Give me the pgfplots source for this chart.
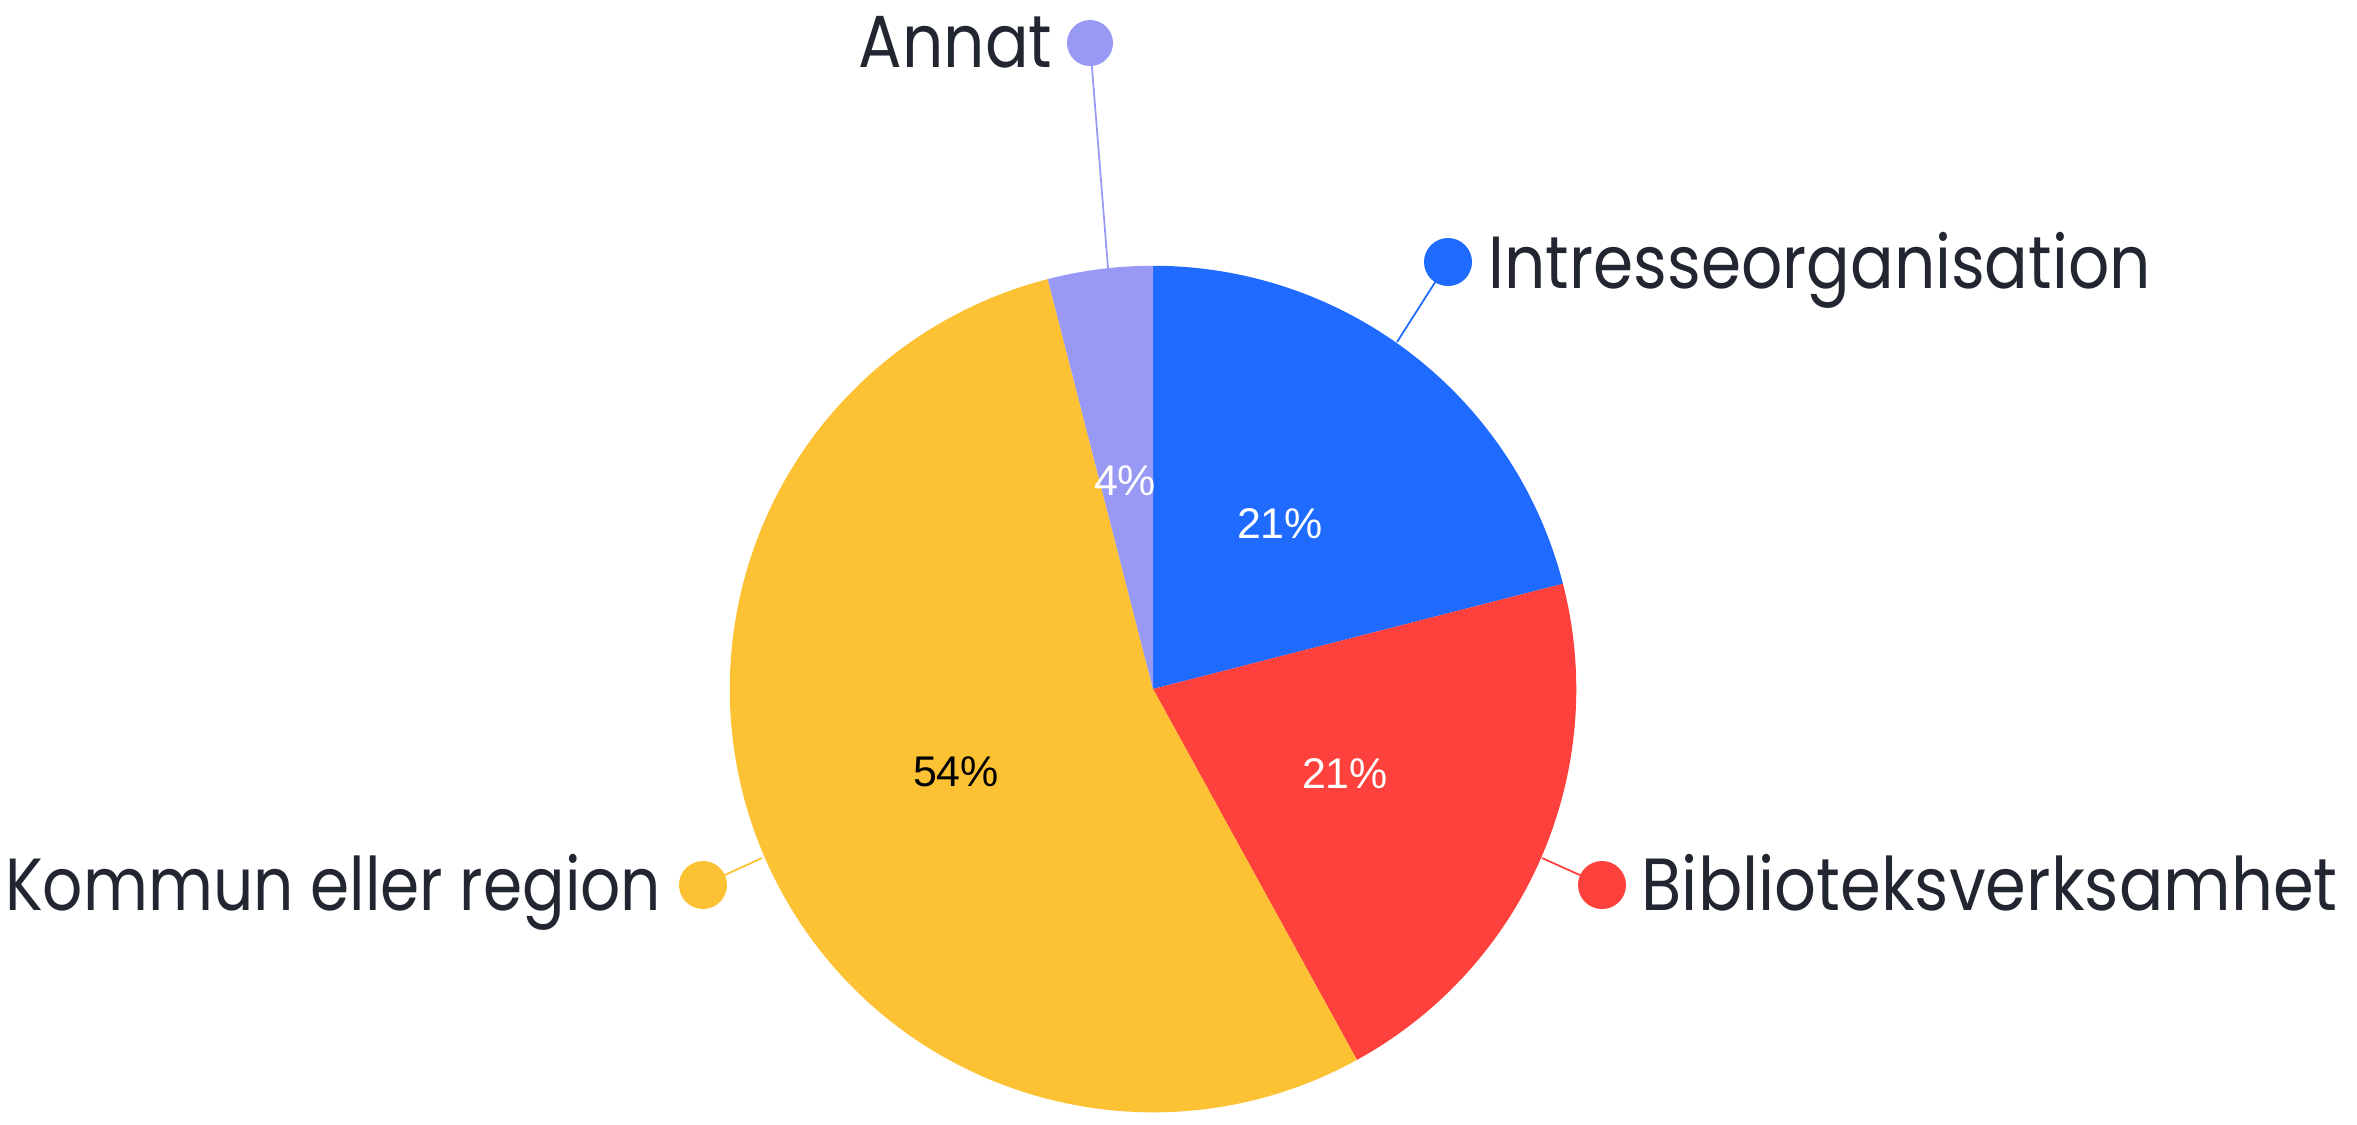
\documentclass[border=0pt]{standalone}
\usepackage{pgfplots}
\pgfplotsset{compat=1.18}
\usepackage{fontspec}
\setmainfont{Poppins}[FakeStretch=0.875]
\newfontfamily\pctfont{Liberation Sans}
\definecolor{cblue}{RGB}{31,107,255}
\definecolor{cred}{RGB}{255,65,61}
\definecolor{cyellow}{RGB}{253,194,52}
\definecolor{clav}{RGB}{152,152,245}
\definecolor{ctext}{RGB}{34,38,48}
\newcommand{\labfont}{\fontsize{21}{25}\selectfont\color{ctext}}
\newcommand{\pctf}{\pctfont\fontsize{12.2}{15}\selectfont}
\begin{document}
\begin{tikzpicture}
\begin{axis}[x=0.01cm, y=0.01cm, xmin=0, xmax=2357, ymin=0, ymax=1124,
  y dir=reverse, hide axis, clip=false]
% pie slices: values 21, 21, 54, 4 (percent), clockwise from the top
\fill[cblue]   (axis cs:1153,689) -- ++(90:4.23cm)     arc[start angle=90,     end angle={90-21*3.6},          radius=4.23cm] -- cycle;
\fill[cred]    (axis cs:1153,689) -- ++(14.4:4.23cm)   arc[start angle=14.4,   end angle={14.4-21*3.6},        radius=4.23cm] -- cycle;
\fill[cyellow] (axis cs:1153,689) -- ++(-61.2:4.23cm)  arc[start angle=-61.2,  end angle={-61.2-54*3.6},       radius=4.23cm] -- cycle;
\fill[clav]    (axis cs:1153,689) -- ++(-255.6:4.23cm) arc[start angle=-255.6, end angle={-255.6-4*3.6},       radius=4.23cm] -- cycle;
% leader lines
\draw[clav, line width=0.5pt]    (axis cs:1108,268) -- (axis cs:1090,43);
\draw[cblue, line width=0.5pt]   (axis cs:1397,342) -- (axis cs:1448,262);
\draw[cred, line width=0.5pt]    (axis cs:1542,858) -- (axis cs:1602,885);
\draw[cyellow, line width=0.5pt] (axis cs:762,858)  -- (axis cs:703,885);
% dots
\fill[clav]    (axis cs:1090,43)  circle[radius=0.23cm];
\fill[cblue]   (axis cs:1448,262) circle[radius=0.24cm];
\fill[cred]    (axis cs:1602,885) circle[radius=0.24cm];
\fill[cyellow] (axis cs:703,885)  circle[radius=0.24cm];
% category labels
\node[anchor=base east, inner sep=0pt] at (axis cs:1053,67)  {\labfont Annat};
\node[anchor=base west, inner sep=0pt] at (axis cs:1488,288) {\labfont Intresseorganisation};
\node[anchor=base west, inner sep=0pt] at (axis cs:1641,910) {\labfont\scalebox{1.015}[1]{Biblioteksverksamhet}};
\node[anchor=base east, inner sep=0pt] at (axis cs:662,910)  {\labfont\scalebox{0.975}[1]{Kommun eller region}};
% percentages
\node[inner sep=0pt, text=white] at (axis cs:1280,524) {\pctf 21\%};
\node[inner sep=0pt, text=white] at (axis cs:1125,481) {\pctf 4\%};
\node[inner sep=0pt, text=white] at (axis cs:1345,774) {\pctf 21\%};
\node[inner sep=0pt, text=black] at (axis cs:956,772)  {\pctf 54\%};
\end{axis}
\pgfresetboundingbox
\useasboundingbox (current axis.south west) rectangle (current axis.north east);
\end{tikzpicture}
\end{document}
